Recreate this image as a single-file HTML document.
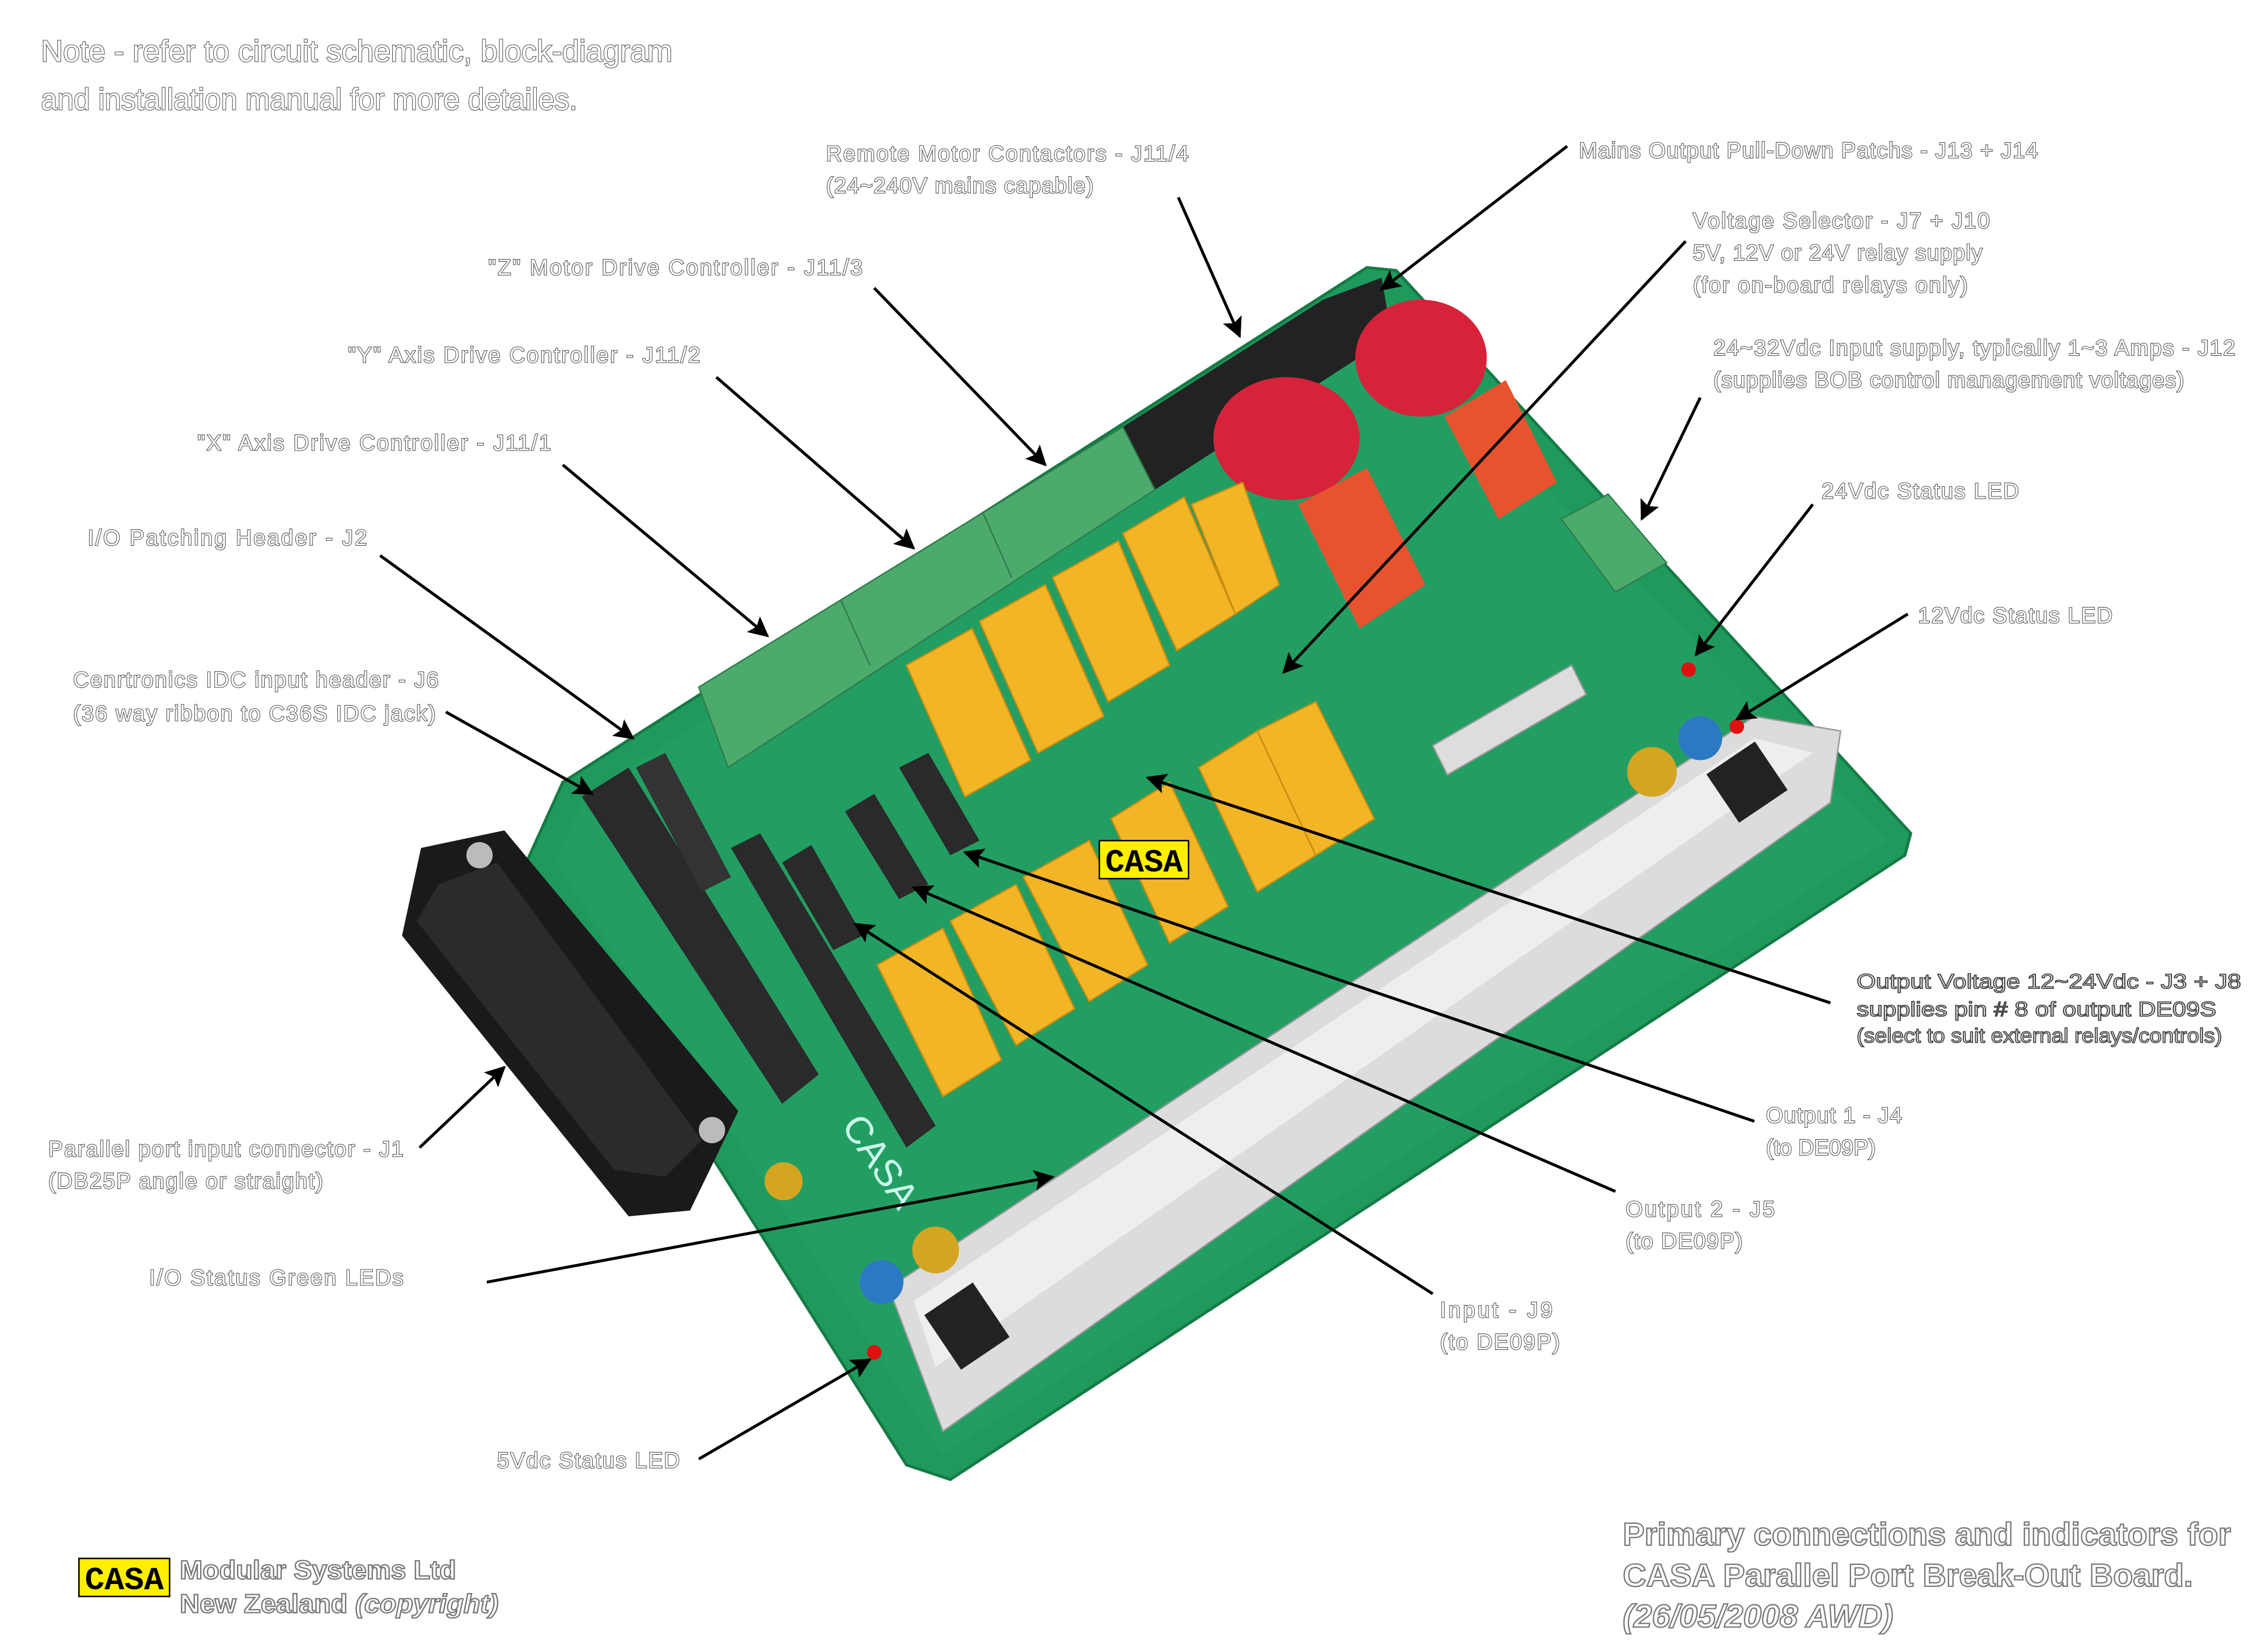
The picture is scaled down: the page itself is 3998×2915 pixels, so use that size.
<!DOCTYPE html>
<html><head><meta charset="utf-8"><style>
html,body{margin:0;padding:0;background:#fff}
svg{display:block}
.t{font-family:"Liberation Sans",sans-serif;fill:#fff;stroke:#444;stroke-width:0.8;paint-order:stroke}
.s{font-size:15px}
.a{font-family:"Liberation Sans",sans-serif;fill:#fff;stroke:#444;stroke-width:0.7;font-size:14px}
.b{font-family:"Liberation Sans",sans-serif;fill:#fff;stroke:#777;stroke-width:0.9;font-size:22px;font-weight:bold}
.l{stroke:#000;stroke-width:2;fill:none}
</style></head><body>
<svg width="3998" height="2915" viewBox="0 0 1550 1130" preserveAspectRatio="none" xmlns="http://www.w3.org/2000/svg">
<defs>
<marker id="ar" viewBox="0 0 10 10" refX="9" refY="5" markerWidth="16" markerHeight="14" orient="auto" markerUnits="userSpaceOnUse">
<path d="M0,0 L10,5 L0,10 L2,5 z" fill="#000"/></marker>
</defs>
<!-- board -->
<polygon points="385,535 935,183 955,185 1307,570 1303,585 650,1012 620,1002 360,590" fill="#1f9a5c" stroke="#157a45" stroke-width="2"/>
<polygon points="400,545 930,200 1290,575 645,995 380,590" fill="#239e62"/>
<!-- black header -->
<polygon points="768,292 905,205 945,190 952,230 790,335" fill="#222"/>
<!-- green terminal blocks -->
<polygon points="478,470 768,292 790,335 498,525" fill="#4cab6c" stroke="#2e7d4a"/>
<line x1="575" y1="410" x2="595" y2="455" stroke="#2e7d4a"/>
<line x1="672" y1="350" x2="692" y2="395" stroke="#2e7d4a"/>
<polygon points="1068,355 1100,338 1140,385 1105,405" fill="#4cab6c" stroke="#2e7d4a"/>
<!-- red discs -->
<ellipse cx="880" cy="300" rx="50" ry="42" fill="#d6233a"/>
<ellipse cx="972" cy="245" rx="45" ry="40" fill="#d6233a"/>
<!-- orange relays -->
<polygon points="888,345 935,320 975,400 930,430" fill="#e8532f"/>
<polygon points="988,285 1030,260 1065,330 1025,355" fill="#e8532f"/>
<!-- yellow relays -->
<g fill="#f2b526" stroke="#c98c10">
<polygon points="620,455 665,430 705,520 660,545"/>
<polygon points="670,425 715,400 755,490 710,515"/>
<polygon points="720,395 765,370 800,455 758,480"/>
<polygon points="768,365 810,340 845,420 805,445"/>
<polygon points="815,345 850,330 875,400 845,420"/>
<polygon points="820,525 860,500 900,585 860,610"/>
<polygon points="860,500 900,480 940,560 900,585"/>
<polygon points="760,560 800,535 840,620 800,645"/>
<polygon points="700,600 745,575 785,660 745,685"/>
<polygon points="650,630 695,605 735,690 695,715"/>
<polygon points="600,660 645,635 685,725 645,750"/>
</g>
<!-- pin headers -->
<polygon points="398,545 430,525 560,735 535,755" fill="#2a2a2a"/>
<polygon points="500,580 520,570 640,770 620,785" fill="#2a2a2a"/>
<polygon points="535,590 555,578 590,640 570,650" fill="#2a2a2a"/>
<polygon points="578,555 598,543 635,605 615,615" fill="#2a2a2a"/>
<polygon points="615,525 635,515 670,575 650,585" fill="#2a2a2a"/>
<polygon points="435,525 455,515 500,600 480,610" fill="#333"/>
<!-- DB25 -->
<polygon points="288,580 345,568 505,760 472,828 430,832 275,640" fill="#1a1a1a"/>
<polygon points="300,605 340,590 480,780 455,805 420,800 285,630" fill="#2b2b2b"/>
<circle cx="328" cy="585" r="9" fill="#bbb"/>
<circle cx="487" cy="773" r="9" fill="#bbb"/>
<!-- heatsink -->
<polygon points="608,881 1200,490 1259,500 1252,549 645,979" fill="#dcdcdc" stroke="#999"/>
<polygon points="625,890 1200,505 1240,515 640,935" fill="#eeeeee"/>
<rect x="1175" y="515" width="40" height="40" fill="#222" transform="rotate(-34 1195 535)"/>
<rect x="640" y="885" width="40" height="45" fill="#222" transform="rotate(-34 660 905)"/>
<!-- caps & leds -->
<circle cx="1130" cy="528" r="17" fill="#d4a521"/>
<circle cx="1163" cy="505" r="15" fill="#2b79c2"/>
<circle cx="640" cy="855" r="16" fill="#d4a521"/>
<circle cx="603" cy="877" r="15" fill="#2b79c2"/>
<circle cx="536" cy="808" r="13" fill="#d4a521"/>
<circle cx="1155" cy="458" r="5" fill="#e01010"/>
<circle cx="1188" cy="497" r="5" fill="#e01010"/>
<circle cx="598" cy="925" r="5" fill="#e01010"/>
<!-- fuse -->
<polygon points="980,510 1075,455 1085,475 990,530" fill="#ddd" stroke="#999"/>
<!-- CASA mid logo -->
<rect x="752" y="575" width="61" height="26" fill="#ffef00" stroke="#000"/>
<text x="756" y="596" font-family="Liberation Mono,monospace" font-size="22" font-weight="bold" fill="#000" textLength="53" lengthAdjust="spacingAndGlyphs">CASA</text>
<text x="575" y="770" font-family="Liberation Sans,sans-serif" font-size="26" fill="#cfe" transform="rotate(56 575 770)">CASA</text>

<!-- connectors -->
<line class="l" x1="806" y1="135" x2="848" y2="230" marker-end="url(#ar)"/>
<line class="l" x1="1072" y1="100" x2="945" y2="198" marker-end="url(#ar)"/>
<line class="l" x1="1153" y1="165" x2="878" y2="460" marker-end="url(#ar)"/>
<line class="l" x1="1163" y1="272" x2="1123" y2="355" marker-end="url(#ar)"/>
<line class="l" x1="1240" y1="345" x2="1160" y2="448" marker-end="url(#ar)"/>
<line class="l" x1="1305" y1="420" x2="1188" y2="492" marker-end="url(#ar)"/>
<line class="l" x1="598" y1="197" x2="715" y2="318" marker-end="url(#ar)"/>
<line class="l" x1="490" y1="258" x2="625" y2="375" marker-end="url(#ar)"/>
<line class="l" x1="385" y1="318" x2="525" y2="435" marker-end="url(#ar)"/>
<line class="l" x1="260" y1="380" x2="433" y2="505" marker-end="url(#ar)"/>
<line class="l" x1="305" y1="487" x2="405" y2="543" marker-end="url(#ar)"/>
<line class="l" x1="1252" y1="686" x2="785" y2="532" marker-end="url(#ar)"/>
<line class="l" x1="1200" y1="767" x2="660" y2="583" marker-end="url(#ar)"/>
<line class="l" x1="1105" y1="815" x2="625" y2="607" marker-end="url(#ar)"/>
<line class="l" x1="980" y1="885" x2="585" y2="632" marker-end="url(#ar)"/>
<line class="l" x1="333" y1="877" x2="720" y2="805" marker-end="url(#ar)"/>
<line class="l" x1="287" y1="785" x2="345" y2="730" marker-end="url(#ar)"/>
<line class="l" x1="478" y1="998" x2="595" y2="930" marker-end="url(#ar)"/>

<!-- labels -->
<g class="t">
<text x="28" y="42" font-size="21" textLength="432" lengthAdjust="spacingAndGlyphs">Note - refer to circuit schematic, block-diagram</text>
<text x="28" y="75" font-size="21" textLength="367" lengthAdjust="spacingAndGlyphs">and installation manual for more detailes.</text>
</g>
<g class="t s">
<text x="565" y="110" textLength="248">Remote Motor Contactors - J11/4</text>
<text x="565" y="132" textLength="183">(24~240V mains capable)</text>
<text x="1080" y="108" textLength="314">Mains Output Pull-Down Patchs - J13 + J14</text>
<text x="1158" y="156" textLength="203">Voltage Selector - J7 + J10</text>
<text x="1158" y="178" textLength="198">5V, 12V or 24V relay supply</text>
<text x="1158" y="200" textLength="188">(for on-board relays only)</text>
<text x="1172" y="243" textLength="357">24~32Vdc Input supply, typically 1~3 Amps - J12</text>
<text x="1172" y="265" textLength="322">(supplies BOB control management voltages)</text>
<text x="1246" y="341" textLength="135">24Vdc Status LED</text>
<text x="1312" y="426" textLength="133">12Vdc Status LED</text>
<text x="334" y="188" textLength="256">"Z" Motor Drive Controller - J11/3</text>
<text x="238" y="248" textLength="241">"Y" Axis Drive Controller - J11/2</text>
<text x="135" y="308" textLength="242">"X" Axis Drive Controller - J11/1</text>
<text x="60" y="373" textLength="191">I/O Patching Header - J2</text>
<text x="50" y="470" textLength="250">Cenrtronics IDC input header - J6</text>
<text x="50" y="493" textLength="248">(36 way ribbon to C36S IDC jack)</text>
<text x="1208" y="768" textLength="93">Output 1 - J4</text>
<text x="1208" y="790" textLength="75">(to DE09P)</text>
<text x="1112" y="832" textLength="102">Output 2 - J5</text>
<text x="1112" y="854" textLength="80">(to DE09P)</text>
<text x="985" y="901" textLength="77">Input - J9</text>
<text x="985" y="923" textLength="82">(to DE09P)</text>
<text x="33" y="791" textLength="243">Parallel port input connector - J1</text>
<text x="33" y="813" textLength="188">(DB25P angle or straight)</text>
<text x="102" y="879" textLength="174">I/O Status Green LEDs</text>
<text x="340" y="1004" textLength="125">5Vdc Status LED</text>
</g>
<g class="a">
<text x="1270" y="676" textLength="263" lengthAdjust="spacingAndGlyphs">Output Voltage 12~24Vdc - J3 + J8</text>
<text x="1270" y="695" textLength="246" lengthAdjust="spacingAndGlyphs">supplies pin # 8 of output DE09S</text>
<text x="1270" y="713" textLength="250" lengthAdjust="spacingAndGlyphs">(select to suit external relays/controls)</text>
</g>
<g class="b">
<text x="1110" y="1057" textLength="416" lengthAdjust="spacingAndGlyphs">Primary connections and indicators for</text>
<text x="1110" y="1085" textLength="390" lengthAdjust="spacingAndGlyphs">CASA Parallel Port Break-Out Board.</text>
<text x="1110" y="1113" font-style="italic" textLength="185" lengthAdjust="spacingAndGlyphs">(26/05/2008 AWD)</text>
</g>
<rect x="54" y="1066" width="62" height="26" fill="#ffef00" stroke="#000"/>
<text x="58" y="1087" font-family="Liberation Mono,monospace" font-size="22" font-weight="bold" fill="#000" textLength="54" lengthAdjust="spacingAndGlyphs">CASA</text>
<g class="b" style="font-size:18px">
<text x="123" y="1080" textLength="189" lengthAdjust="spacingAndGlyphs">Modular Systems Ltd</text>
<text x="123" y="1103" textLength="218" lengthAdjust="spacingAndGlyphs">New Zealand <tspan font-style="italic">(copyright)</tspan></text>
</g>
</svg>
</body></html>
